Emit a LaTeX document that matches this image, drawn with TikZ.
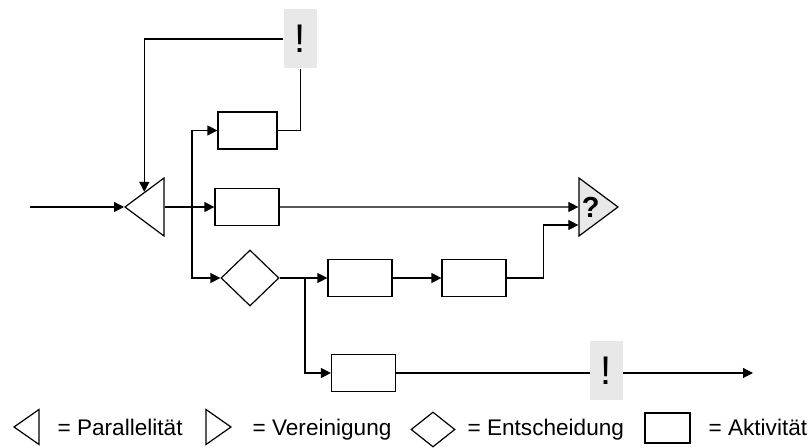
\documentclass[tikz,border=0pt]{standalone}
\usepackage{fontspec}
\setmainfont{Liberation Sans}
\usetikzlibrary{arrows.meta,positioning,shapes.geometric,calc}

\begin{document}
\begin{tikzpicture}[
  x=0.5pt, y=-0.5pt,
  font=\fontsize{11.3}{13}\selectfont,
  line width=0.6pt,
  act/.style={draw, minimum width=32pt, minimum height=18.5pt, inner sep=0pt},
  forkshape/.style={draw, isosceles triangle, isosceles triangle apex angle=73,
    isosceles triangle stretches, shape border rotate=180, inner sep=0pt, anchor=apex},
  joinshape/.style={draw, isosceles triangle, isosceles triangle apex angle=73,
    isosceles triangle stretches, inner sep=0pt, anchor=apex},
  decision/.style={draw, diamond, inner sep=0pt},
  warn/.style={fill=black!9, inner sep=0pt, minimum width=16.5pt, minimum height=29.5pt, font=\fontsize{20}{20}\selectfont},
  legtext/.style={anchor=base west, inner sep=0pt},
  arrow/.style={-{Triangle[length=5pt,width=5pt]}}
]
\useasboundingbox (0,0) rectangle (811,448);

% flow
\coordinate (in) at (30,207);
\node[forkshape, minimum width=29pt, minimum height=19.5pt] (par) at (124,207) {};
\node[act, minimum width=29.5pt] (act1) at (247.5,130.5) {};
\node[act] (act2) at (247,207) {};
\node[decision, minimum width=29pt, minimum height=28pt] (dec) at (250,278) {};
\node[act] (act3) at (360,278) {};
\node[act] (act4) at (474,278) {};
\node[act] (act5) at (363.5,373) {};
\node[joinshape, minimum width=29pt, minimum height=19.5pt, fill=black!9,
      font=\bfseries\fontsize{14.5}{14.5}\selectfont] (join) at (619,207) {?};
\node[warn] (warn1) at (300.5,39) {!};
\coordinate (out) at (753,373);

\draw[arrow] (in) -- (par.apex);
\draw[arrow] (par.east) -- (act2);
\coordinate (fork) at ($(par.east)!0.55!(act2.west)$);
\draw[arrow] (fork) |- (act1);
\draw[arrow] (fork) |- (dec);
\draw (act1.east) -| (warn1.south);
\draw[arrow] (warn1.west) -| (par.right side);
\draw[arrow] (act2) -- (join.west);
\draw[arrow] (dec) -- (act3);
\draw[arrow] (act3) -- (act4);
\draw[arrow] (act4.east) -- ++(37,0) |- ($(join.west)+(0,18)$);
\coordinate (branch) at ($(dec.east)!0.53!(act3.west)$);
\draw[arrow] (branch) |- (act5);
\draw[arrow] (act5) -- (out);
\node[warn] (warn2) at (606,371) {!};

% legend
\node[forkshape, minimum width=17.5pt, minimum height=12.5pt] (lpar) at (13,427) {};
\node[legtext] (lpartxt) at (57,436) {= Parallelität};
\node[joinshape, minimum width=17.5pt, minimum height=12.5pt] (ljoin) at (232,427) {};
\node[legtext] (ljointxt) at (252,436) {= Vereinigung};
\node[decision, minimum width=22pt, minimum height=17.5pt] (ldec) at (433,429.5) {};
\node[legtext] (ldectxt) at (467,436) {= Entscheidung};
\node[act, minimum width=22.5pt, minimum height=15pt] (lact) at (667.5,428) {};
\node[legtext] (lacttxt) at (708,436) {= Aktivität};
\end{tikzpicture}
\end{document}
